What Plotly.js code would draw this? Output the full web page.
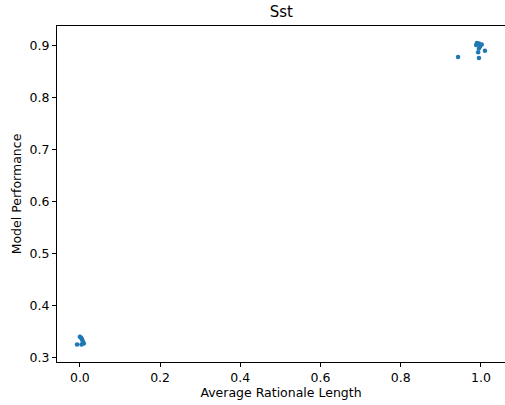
<!DOCTYPE html>
<html>
<head>
<meta charset="utf-8">
<script src="https://cdn.plot.ly/plotly-3.0.1.min.js"></script>
<style>html,body{margin:0;padding:0;background:#fff;}#chart{width:505px;height:405px;}</style>
</head>
<body>
<div id="chart"></div>
<script>
const rationaleLength = [-0.007, 0.000, 0.003, 0.005, 0.006, 0.008, 0.010, 0.004,
                         0.943, 0.988, 0.990, 0.995, 1.002, 0.995, 0.993, 1.010, 0.995, 0.998];
const performance =     [0.325, 0.340, 0.338, 0.336, 0.334, 0.330, 0.327, 0.325,
                         0.879, 0.902, 0.906, 0.905, 0.903, 0.895, 0.888, 0.891, 0.877, 0.899];
const xTicks = [0, 0.2, 0.4, 0.6, 0.8, 1.0];
const xTickText = ['0.0', '0.2', '0.4', '0.6', '0.8', '1.0'];
const yTicks = [0.3, 0.4, 0.5, 0.6, 0.7, 0.8, 0.9];
const yTickText = ['0.3', '0.4', '0.5', '0.6', '0.7', '0.8', '0.9'];

const trace = {
  x: rationaleLength, y: performance, type: 'scatter', mode: 'markers',
  marker: {color: '#1f77b4', size: 4.5}, cliponaxis: false, hoverinfo: 'none'
};
const layout = {
  width: 505, height: 405,
  margin: {l: 57, r: 0, t: 26, b: 43},
  paper_bgcolor: '#fff', plot_bgcolor: '#fff',
  font: {family: 'DejaVu Sans', size: 12.5, color: '#000'},
  showlegend: false,
  title: {text: 'Sst', font: {size: 15, family: 'DejaVu Sans'}, x: 0.557, xanchor: 'center', y: 0.97, yanchor: 'middle'},
  xaxis: {
    range: [-0.057, 1.06], tickvals: xTicks, ticktext: xTickText,
    showgrid: false, zeroline: false, showline: true, linecolor: '#000', linewidth: 1, mirror: true,
    ticks: 'outside', ticklen: 4, tickcolor: '#000', tickfont: {size: 12.5},
    title: {text: 'Average Rationale Length', font: {size: 12.5}, standoff: 4}
  },
  yaxis: {
    range: [0.2915, 0.9385], tickvals: yTicks, ticktext: yTickText,
    showgrid: false, zeroline: false, showline: true, linecolor: '#000', linewidth: 1,
    ticks: 'outside', ticklen: 4, tickcolor: '#000', tickfont: {size: 12.5},
    title: {text: 'Model Performance', font: {size: 12.5}, standoff: 5}
  }
};
Plotly.newPlot('chart', [trace], layout, {displayModeBar: false, staticPlot: true});
</script>
</body>
</html>
